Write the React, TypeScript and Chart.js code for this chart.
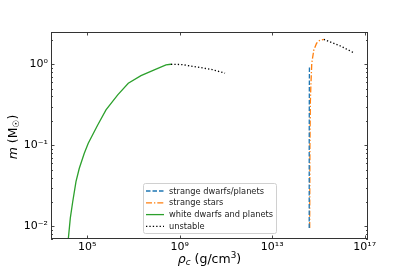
import React, { useEffect, useRef } from "react";
import { Chart, registerables } from "chart.js";
Chart.register(...registerables);

// ---- data ----
const wdRho = [1.41e4, 1.84e4, 2.34e4, 3.24e4, 4.51e4, 7.41e4, 1.1e5, 2.82e5, 6.44e5, 2.07e6, 5.93e6, 2.1e7, 7.91e7, 2.54e8, 4.17e8];
const wdMass = [0.0057, 0.0126, 0.0201, 0.0355, 0.052, 0.0796, 0.106, 0.178, 0.273, 0.418, 0.583, 0.723, 0.851, 0.98, 1.0];

const wdUnstableRho = [4.17e8, 1.26e9, 7.9e9, 2.5e10, 9.1e10];
const wdUnstableMass = [1.0, 0.99, 0.91, 0.86, 0.775];

const sdRho = [3.98e14, 3.98e14, 4.03e14, 4.07e14];
const sdMass = [0.0095, 0.1, 0.5, 0.96];

const ssRho = [4.17e14, 4.27e14, 4.47e14, 4.68e14, 5.13e14, 6.3e14, 8.3e14, 1.1e15, 1.7e15];
const ssMass = [0.0095, 0.1, 0.35, 0.53, 1.03, 1.5, 1.82, 1.96, 2.03];

const ssUnstableRho = [1.7e15, 8.9e15, 3.3e16];
const ssUnstableMass = [2.03, 1.68, 1.39];

const xTickValues = [1e5, 1e9, 1e13, 1e17];
const xTickLabels = ["10\u2075", "10\u2079", "10\u00B9\u00B3", "10\u00B9\u2077"];
const yTickValues = [1e-2, 1e-1, 1];
const yTickLabels = ["10\u207B\u00B2", "10\u207B\u00B9", "10\u2070"];
const yMinorMultipliers = [2, 3, 4, 5, 6, 7, 8, 9];

const X_MIN = 2.69e3;
const X_MAX = 1.39e17;
const Y_MIN = 0.00697;
const Y_MAX = 2.5;

const FONT = "'DejaVu Sans', sans-serif";

const pts = (xs: number[], ys: number[]) => xs.map((x, i) => ({ x, y: ys[i] }));

const decorPlugin = {
  id: "decor",
  afterDraw(chart: any) {
    const { ctx, chartArea: a, scales } = chart;
    const xs = scales.x;
    const ys = scales.y;
    ctx.save();
    // frame
    ctx.strokeStyle = "#333";
    ctx.lineWidth = 1;
    ctx.strokeRect(a.left + 0.5, a.top + 0.5, a.right - a.left - 1, a.bottom - a.top - 1);
    // inward ticks
    ctx.lineWidth = 0.9;
    ctx.beginPath();
    const maj = 3.5;
    const mnr = 2;
    xTickValues.forEach((v) => {
      const p = Math.round(xs.getPixelForValue(v)) + 0.5;
      ctx.moveTo(p, a.bottom);
      ctx.lineTo(p, a.bottom - maj);
      ctx.moveTo(p, a.top);
      ctx.lineTo(p, a.top + maj);
    });
    yTickValues.forEach((v) => {
      const p = Math.round(ys.getPixelForValue(v)) + 0.5;
      ctx.moveTo(a.left, p);
      ctx.lineTo(a.left + maj, p);
      ctx.moveTo(a.right, p);
      ctx.lineTo(a.right - maj, p);
    });
    [1e-3, 1e-2, 1e-1, 1].forEach((d) => {
      yMinorMultipliers.forEach((k) => {
        const v = k * d;
        if (v < Y_MIN || v > Y_MAX) return;
        const p = Math.round(ys.getPixelForValue(v)) + 0.5;
        ctx.moveTo(a.left, p);
        ctx.lineTo(a.left + mnr, p);
        ctx.moveTo(a.right, p);
        ctx.lineTo(a.right - mnr, p);
      });
    });
    ctx.stroke();

    // axis titles
    ctx.fillStyle = "#000";
    ctx.textBaseline = "alphabetic";
    const big = 12.5;
    const small = 8.8;
    const parts = [
      { t: "\u03C1", f: `italic ${big}px ${FONT}`, dy: 0 },
      { t: "c", f: `italic ${small}px ${FONT}`, dy: 2.5 },
      { t: " (g/cm", f: `${big}px ${FONT}`, dy: 0 },
      { t: "3", f: `${small}px ${FONT}`, dy: -5 },
      { t: ")", f: `${big}px ${FONT}`, dy: 0 },
    ];
    let total = 0;
    parts.forEach((p) => {
      ctx.font = p.f;
      total += ctx.measureText(p.t).width;
    });
    let cx = (a.left + a.right) / 2 - total / 2;
    const by = 262.5;
    parts.forEach((p) => {
      ctx.font = p.f;
      ctx.fillText(p.t, cx, by + p.dy);
      cx += ctx.measureText(p.t).width;
    });
    const yparts = [
      { t: "m", f: `italic ${big}px ${FONT}`, dy: 0 },
      { t: " (M", f: `${big}px ${FONT}`, dy: 0 },
      { t: "\u2609", f: `${small}px ${FONT}`, dy: 2.5 },
      { t: ")", f: `${big}px ${FONT}`, dy: 0 },
    ];
    let ytotal = 0;
    yparts.forEach((p) => {
      ctx.font = p.f;
      ytotal += ctx.measureText(p.t).width;
    });
    ctx.save();
    ctx.translate(16.5, (a.top + a.bottom) / 2 + 1.5);
    ctx.rotate(-Math.PI / 2);
    let yx = -ytotal / 2;
    yparts.forEach((p) => {
      ctx.font = p.f;
      ctx.fillText(p.t, yx, p.dy);
      yx += ctx.measureText(p.t).width;
    });
    ctx.restore();

    // legend
    const items = chart.data.datasets.filter((d: any) => d.inLegend);
    const lx = 143.5;
    const ly = 183.5;
    const lw = 133;
    const lh = 50;
    ctx.beginPath();
    const r = 2;
    ctx.moveTo(lx + r, ly);
    ctx.lineTo(lx + lw - r, ly);
    ctx.quadraticCurveTo(lx + lw, ly, lx + lw, ly + r);
    ctx.lineTo(lx + lw, ly + lh - r);
    ctx.quadraticCurveTo(lx + lw, ly + lh, lx + lw - r, ly + lh);
    ctx.lineTo(lx + r, ly + lh);
    ctx.quadraticCurveTo(lx, ly + lh, lx, ly + lh - r);
    ctx.lineTo(lx, ly + r);
    ctx.quadraticCurveTo(lx, ly, lx + r, ly);
    ctx.closePath();
    ctx.fillStyle = "rgba(255,255,255,0.8)";
    ctx.fill();
    ctx.strokeStyle = "#d0d0d0";
    ctx.lineWidth = 1;
    ctx.stroke();
    ctx.font = `8.25px ${FONT}`;
    ctx.textBaseline = "middle";
    items.forEach((d: any, i: number) => {
      const yy = 191 + i * 11.8;
      ctx.save();
      ctx.strokeStyle = d.borderColor;
      ctx.lineWidth = d.borderWidth;
      ctx.setLineDash(d.borderDash || []);
      ctx.beginPath();
      ctx.moveTo(146, yy);
      ctx.lineTo(164, yy);
      ctx.stroke();
      ctx.restore();
      ctx.fillStyle = "#222";
      ctx.fillText(d.label, 169, yy + 0.5);
    });
    ctx.restore();
  },
};

export default function App() {
  const ref = useRef<HTMLCanvasElement | null>(null);
  useEffect(() => {
    document.body.style.margin = "0";
    if (!ref.current) return;
    const lineW = 1.3;
    const chart = new Chart(ref.current, {
      type: "line",
      data: {
        datasets: [
          {
            label: "strange dwarfs/planets",
            inLegend: true,
            data: pts(sdRho, sdMass),
            borderColor: "#1f77b4",
            borderWidth: lineW,
            borderDash: [4.5, 2],
            pointRadius: 0,
            clip: 0,
          } as any,
          {
            label: "strange stars",
            inLegend: true,
            data: pts(ssRho, ssMass),
            borderColor: "#ff7f0e",
            borderWidth: lineW,
            borderDash: [6, 2, 1.3, 2],
            pointRadius: 0,
            clip: 0,
          } as any,
          {
            label: "white dwarfs and planets",
            inLegend: true,
            data: pts(wdRho, wdMass),
            borderColor: "#2ca02c",
            borderWidth: lineW,
            pointRadius: 0,
            clip: 0,
          } as any,
          {
            label: "unstable",
            inLegend: true,
            data: pts(wdUnstableRho, wdUnstableMass),
            borderColor: "#000000",
            borderWidth: lineW,
            borderDash: [1.3, 2.1],
            pointRadius: 0,
            clip: 0,
          } as any,
          {
            label: "unstable (strange stars)",
            inLegend: false,
            data: pts(ssUnstableRho, ssUnstableMass),
            borderColor: "#000000",
            borderWidth: lineW,
            borderDash: [1.3, 2.1],
            pointRadius: 0,
            clip: 0,
          } as any,
        ],
      },
      options: {
        animation: false,
        responsive: false,
        events: [],
        layout: { padding: { left: 0, right: 41, top: 32, bottom: 0 } },
        plugins: { legend: { display: false }, tooltip: { enabled: false } },
        scales: {
          x: {
            type: "logarithmic",
            min: X_MIN,
            max: X_MAX,
            afterBuildTicks: (s: any) => {
              s.ticks = xTickValues.map((v) => ({ value: v }));
            },
            afterFit: (s: any) => {
              s.height = 34;
            },
            grid: { display: false, drawTicks: false },
            border: { display: false },
            ticks: {
              autoSkip: false,
              maxRotation: 0,
              padding: 2,
              color: "#000",
              font: { family: FONT, size: 11 },
              callback: (_v: any, i: number) => xTickLabels[i],
            },
          },
          y: {
            type: "logarithmic",
            min: Y_MIN,
            max: Y_MAX,
            afterBuildTicks: (s: any) => {
              s.ticks = yTickValues.map((v) => ({ value: v }));
            },
            afterFit: (s: any) => {
              s.width = 51;
            },
            grid: { display: false, drawTicks: false },
            border: { display: false },
            ticks: {
              autoSkip: false,
              padding: 3,
              color: "#000",
              font: { family: FONT, size: 11 },
              callback: (_v: any, i: number) => yTickLabels[i],
            },
          },
        },
      },
      plugins: [decorPlugin],
    } as any);
    return () => chart.destroy();
  }, []);
  return (
    <div style={{ position: "fixed", left: 0, top: 0, width: 409, height: 273, background: "#fff" }}>
      <canvas ref={ref} width={409} height={273} style={{ width: 409, height: 273 }} />
    </div>
  );
}
